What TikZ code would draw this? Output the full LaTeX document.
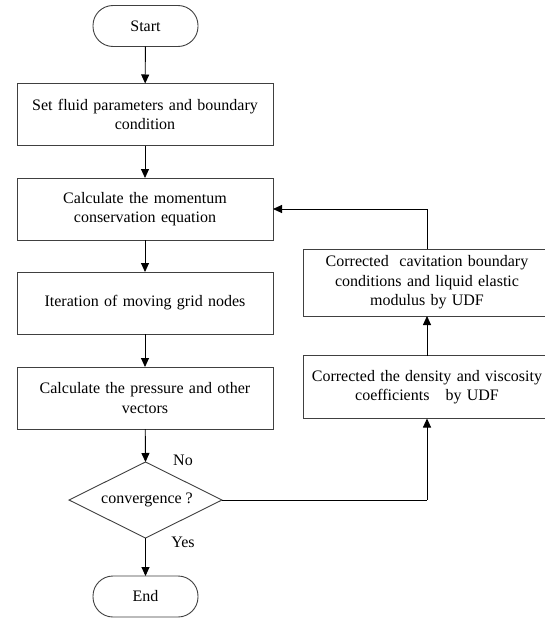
\documentclass[tikz,border=0pt]{standalone}
\usepackage{fontspec}
\setmainfont{Liberation Serif}
\usetikzlibrary{shapes.geometric,arrows.meta}
\begin{document}
\begin{tikzpicture}[x=1pt,y=-1pt,
  every node/.style={font=\fontsize{16}{19.5}\selectfont, inner sep=0pt, outer sep=0pt},
  proc/.style={draw=black!75, line width=0.9pt, fill=white, minimum width=256pt, minimum height=62pt, text width=250pt, align=center},
  side/.style={draw=black!75, line width=0.9pt, fill=white, minimum width=248pt, minimum height=63pt, text width=244pt, align=center},
  term/.style={draw=black!75, line width=0.9pt, rounded corners=20pt, minimum width=105pt, minimum height=41pt},
  dec/.style={draw=black!75, line width=0.9pt, diamond, minimum width=153pt, minimum height=76pt},
  flow/.style={draw=black, line width=0.9pt, -{Triangle[length=9pt,width=8pt]}},
  plain/.style={draw=black, line width=0.9pt}]
\clip (0,0) rectangle (545,618);
\fill[white] (0,0) rectangle (545,618);
\node[term] (start) at (145.5,26) {Start};
\node[proc] (b1) at (145,114.5) {Set fluid parameters and boundary\\condition};
\node[proc] (b2) at (145,209) {Calculate the momentum\\conservation equation};
\node[proc] (b3) at (145,303) {Iteration of moving grid nodes};
\node[proc] (b4) at (145,398) {Calculate the pressure and other\\vectors};
\node[dec] (dc) at (145.5,500) {};
\node at (147,500) {convergence ?};
\node[term] (end) at (145.5,596.5) {End};
\node[side, minimum height=67pt] (bA) at (427,282.5) {Corrected\ \ cavitation boundary\\conditions and liquid elastic\\modulus by UDF};
\node[side] (bB) at (427,387) {Corrected the density and viscosity\\coefficients\ \ \ by UDF};
\node (no) at (183,460) {No};
\node (yes) at (183,542) {Yes};
\coordinate (c1) at (427,500);
\coordinate (c2) at (427,209);
\draw[flow] (start) -- (b1);
\draw[flow] (b1) -- (b2);
\draw[flow] (b2) -- (b3);
\draw[flow] (b3) -- (b4);
\draw[flow] (b4) -- (dc.north);
\draw[flow] (dc.south) -- (end);
\draw[plain] (dc.east) -- (c1);
\draw[flow] (c1) -- (bB.south);
\draw[flow] (bB) -- (bA);
\draw[plain] (bA.north) -- (c2);
\draw[flow] (c2) -- (b2.east);
\end{tikzpicture}
\end{document}
